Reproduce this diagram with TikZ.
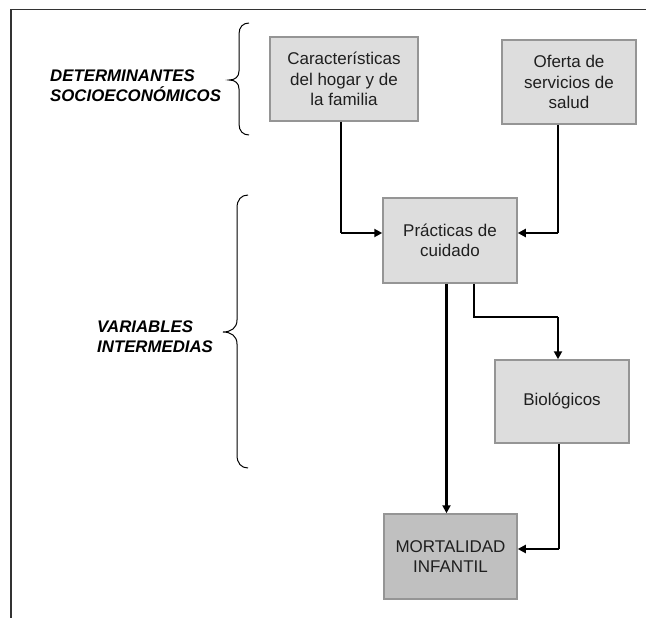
\documentclass[tikz,border=0pt]{standalone}
\usepackage{fontspec}
\setmainfont{Liberation Sans}
\usetikzlibrary{arrows.meta}
\definecolor{boxfill}{HTML}{DDDDDD}
\definecolor{mortfill}{HTML}{C0C0C0}
\definecolor{boxline}{HTML}{959595}
\begin{document}
\begin{tikzpicture}[x=1pt,y=1pt,
  box/.style={draw=boxline, line width=1.5pt, fill=boxfill, minimum width=134pt, minimum height=84pt,
    align=center, font=\fontsize{17}{20.5}\selectfont, text=black!88, inner sep=0pt},
  lbl/.style={font=\fontsize{16.8}{20}\selectfont\bfseries\itshape, align=left, anchor=west, inner sep=0pt},
  thinc/.style={line width=1.1pt},
  thickc/.style={line width=2.2pt, -{Triangle[length=8pt,width=8pt]}},
  brc/.style={line width=1pt}]
\useasboundingbox (0,0) rectangle (646,-618);
\draw[line width=1.6pt, black!80] (11,-618) -- (11,-9.5) -- (646,-9.5);

\node[box, minimum width=148pt] (car) at (344,-79) {Características\\del hogar y de\\la familia};
\node[box] (ofe) at (569,-82) {Oferta de\\servicios de\\salud};
\node[box, minimum height=85pt] (pra) at (450,-240.5) {Prácticas de\\cuidado};
\node[box, minimum height=83pt] (bio) at (562,-401.5) {Biológicos};
\node[box, fill=mortfill, minimum height=85pt, minimum width=133pt] (mor) at (450.5,-556.5) {MORTALIDAD\\INFANTIL};

\node[lbl] (det) at (50,-86) {DETERMINANTES\\SOCIOECONÓMICOS};
\node[lbl] (var) at (97,-337) {VARIABLES\\INTERMEDIAS};

% braces
\draw[brc] (249,-23) .. controls (243,-23) and (239,-27) .. (239,-34) -- (239,-71)
  .. controls (239,-77) and (235,-80) .. (229,-80)
  .. controls (235,-80) and (239,-83) .. (239,-89) -- (239,-124)
  .. controls (239,-131) and (243,-135) .. (249,-135);
\draw[brc] (248,-195) .. controls (241,-195) and (237,-200) .. (237,-208) -- (237,-320)
  .. controls (237,-328) and (231,-332) .. (223,-332)
  .. controls (231,-332) and (237,-336) .. (237,-344) -- (237,-455)
  .. controls (237,-463) and (241,-468) .. (248,-468);

% connectors
\coordinate (c1) at (341,-233);
\draw[thinc] (car.south -| c1) -- (c1);
\draw[thickc] (c1) -- (c1 -| pra.west);

\coordinate (c2) at (558,-233);
\draw[thinc] (ofe.south -| c2) -- (c2);
\draw[thickc] (c2) -- (c2 -| pra.east);

\coordinate (c3) at (446.5,0);
\draw[thickc] (pra.south -| c3) -- (mor.north -| c3);

\coordinate (c4) at (474,-317);
\coordinate (c5) at (558,-317);
\draw[thinc] (pra.south -| c4) |- (c5);
\draw[thickc] (c5) -- (bio.north -| c5);

\coordinate (c6) at (559,-549);
\draw[thinc] (bio.south -| c6) -- (c6);
\draw[thickc] (c6) -- (c6 -| mor.east);
\end{tikzpicture}
\end{document}
